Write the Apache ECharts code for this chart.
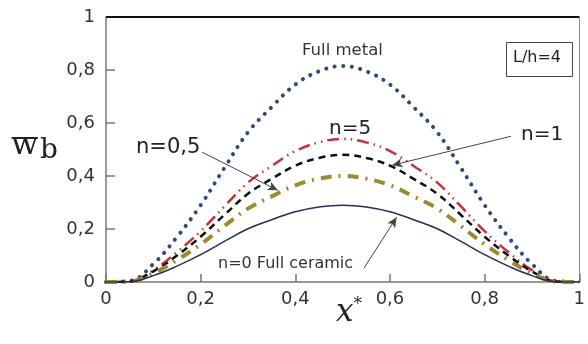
<!DOCTYPE html>
<html>
<head>
<meta charset="utf-8">
<script src="https://cdn.jsdelivr.net/npm/echarts@6/dist/echarts.min.js"></script>
<style>
html,body{margin:0;padding:0;background:#fff}
#chart{width:588px;height:344px}
</style>
</head>
<body>
<div id="chart"></div>
<script>
// x* positions
const xs = [0, 0.05, 0.1, 0.15, 0.2, 0.25, 0.3, 0.35, 0.4, 0.45, 0.5, 0.55, 0.6, 0.65, 0.7, 0.75, 0.8, 0.85, 0.9, 0.95, 1]
// deflection values
const fullMetal = [0, 0.004, 0.068, 0.17, 0.29, 0.43, 0.565, 0.66, 0.745, 0.795, 0.815, 0.795, 0.745, 0.66, 0.565, 0.43, 0.29, 0.17, 0.068, 0.004, 0]
const n5 = [0, 0.003, 0.045, 0.113, 0.192, 0.285, 0.375, 0.438, 0.494, 0.527, 0.54, 0.527, 0.494, 0.438, 0.375, 0.285, 0.192, 0.113, 0.045, 0.003, 0]
const n1 = [0, 0.002, 0.04, 0.1, 0.171, 0.253, 0.333, 0.389, 0.439, 0.468, 0.48, 0.468, 0.439, 0.389, 0.333, 0.253, 0.171, 0.1, 0.04, 0.002, 0]
const n05 = [0, 0.002, 0.033, 0.083, 0.142, 0.211, 0.277, 0.323, 0.365, 0.39, 0.4, 0.39, 0.365, 0.323, 0.277, 0.211, 0.142, 0.083, 0.033, 0.002, 0]
const n0 = [0, 0.001, 0.024, 0.06, 0.103, 0.153, 0.201, 0.235, 0.265, 0.283, 0.29, 0.283, 0.265, 0.235, 0.201, 0.153, 0.103, 0.06, 0.024, 0.001, 0]

const pairs = (arr) => xs.map((x, i) => [x, arr[i]])
const fmt = (v) => String(+v.toFixed(1)).replace('.', ',')
const font = '"DejaVu Sans", sans-serif'

// annotation arrows (data coords)
const arrows = [
	[[0.856, 0.55], [0.605, 0.441]],
	[[0.203, 0.49], [0.363, 0.346]],
	[[0.545, 0.052], [0.614, 0.244]]
]

const chart = echarts.init(document.getElementById('chart'))
const option = {
	animation: false,
	grid: { left: 106, right: 4, top: 17, bottom: 62 },
	xAxis: {
		type: 'value', min: 0, max: 1, interval: 0.2,
		axisLine: { onZero: false, lineStyle: { color: '#777', width: 1.5 } },
		axisTick: { inside: true, length: 8, lineStyle: { color: '#777', width: 1.5 } },
		axisLabel: { formatter: fmt, color: '#333', fontSize: 18, fontFamily: font, margin: 8 },
		splitLine: { show: false }
	},
	yAxis: [{
		type: 'value', min: 0, max: 1, interval: 0.2,
		axisLine: { show: true, onZero: false, lineStyle: { color: '#777', width: 1.5 } },
		axisTick: { show: true, inside: true, length: 9, lineStyle: { color: '#777', width: 1.5 } },
		axisLabel: { formatter: fmt, color: '#333', fontSize: 18, fontFamily: font, margin: 11 },
		splitLine: { show: false }
	}, {
		type: 'value', min: 0, max: 1, position: 'right',
		axisLine: { show: true, onZero: false, lineStyle: { color: '#888', width: 1 } },
		axisTick: { show: false }, axisLabel: { show: false }, splitLine: { show: false }
	}],
	series: [{
		name: 'Full metal', type: 'line', data: pairs(fullMetal), smooth: 0.4, showSymbol: false,
		lineStyle: { color: '#2f4b7c', width: 4, type: [0.1, 8.5], cap: 'round' },
		// top frame line at y = 1
		markLine: {
			silent: true, symbol: 'none', label: { show: false },
			lineStyle: { color: '#111', width: 2, type: 'solid' },
			data: [[{ coord: [0, 1] }, { coord: [1, 1] }]]
		}
	}, {
		name: 'n=5', type: 'line', data: pairs(n5), smooth: 0.4, showSymbol: false,
		lineStyle: { color: '#c9303a', width: 2.5, type: [12, 5, 1.5, 5, 1.5, 5] }
	}, {
		name: 'n=1', type: 'line', data: pairs(n1), smooth: 0.4, showSymbol: false,
		lineStyle: { color: '#111', width: 2.5, type: [7, 5] }
	}, {
		name: 'n=0,5', type: 'line', data: pairs(n05), smooth: 0.4, showSymbol: false,
		lineStyle: { color: '#9a8a30', width: 4, type: [11, 7, 2, 7] }
	}, {
		name: 'n=0', type: 'line', data: pairs(n0), smooth: 0.4, showSymbol: false,
		lineStyle: { color: '#23315a', width: 1.5 },
		markLine: {
			silent: true, symbol: ['none', 'arrow'], symbolSize: [7, 10],
			label: { show: false },
			lineStyle: { color: '#444', width: 1, type: 'solid' },
			data: arrows.map(a => [{ coord: a[0] }, { coord: a[1] }])
		}
	}],
	graphic: [
		{ type: 'text', left: 302, top: 42, style: { text: 'Full metal', font: '16.5px ' + font, fill: '#333' } },
		{ type: 'text', left: 329, top: 119, style: { text: 'n=5', font: '20px ' + font, fill: '#222' } },
		{ type: 'text', left: 521, top: 125, style: { text: 'n=1', font: '20px ' + font, fill: '#222' } },
		{ type: 'text', left: 136, top: 137, style: { text: 'n=0,5', font: '21px ' + font, fill: '#222' } },
		{ type: 'text', left: 218, top: 256, style: { text: 'n=0 Full ceramic', font: '16px ' + font, fill: '#333' } },
		{ type: 'rect', left: 506, top: 42, shape: { width: 66, height: 34 }, style: { fill: '#fff', stroke: '#444', lineWidth: 1 } },
		{ type: 'text', left: 513, top: 50, style: { text: 'L/h=4', font: '16px ' + font, fill: '#222' } },
		{ type: 'text', left: 11, top: 130, style: { text: 'w', font: '32px "DejaVu Serif"', fill: '#222' } },
		{ type: 'line', shape: { x1: 13, y1: 138, x2: 37, y2: 138 }, style: { stroke: '#222', lineWidth: 2 } },
		{ type: 'text', left: 40, top: 137, style: { text: 'b', font: '28px "DejaVu Serif"', fill: '#222' } },
		{ type: 'text', left: 336, top: 296, style: {
			text: '{x|x}{s|*}',
			rich: {
				x: { fontSize: 31, fontFamily: 'DejaVu Serif', fontStyle: 'italic', fill: '#222' },
				s: { fontSize: 17, fontFamily: 'DejaVu Serif', fill: '#222', padding: [0, 0, 16, 0] }
			}
		} }
	]
}
chart.setOption(option)
</script>
</body>
</html>
